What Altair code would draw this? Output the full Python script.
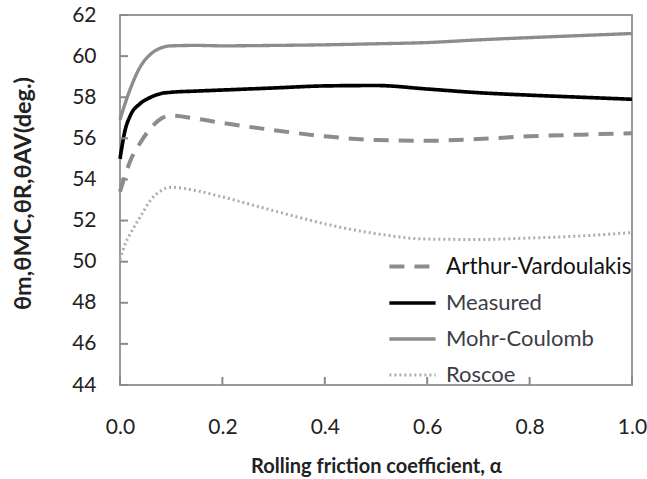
import altair as alt
import pandas as pd

# ---- data ----
alpha = [0.0, 0.01, 0.02, 0.04, 0.06, 0.08, 0.1, 0.15, 0.2, 0.3, 0.4, 0.5, 0.6, 0.7, 0.8, 0.9, 1.0]
arthur = [53.4, 54.2, 54.9, 55.8, 56.5, 56.95, 57.1, 56.95, 56.75, 56.4, 56.1, 55.92, 55.88, 55.97, 56.1, 56.18, 56.25]
measured = [55.0, 56.4, 57.1, 57.7, 58.0, 58.18, 58.24, 58.3, 58.35, 58.45, 58.55, 58.57, 58.4, 58.22, 58.1, 58.0, 57.9]
mohr = [56.9, 57.7, 58.4, 59.5, 60.1, 60.4, 60.5, 60.52, 60.5, 60.52, 60.55, 60.6, 60.66, 60.79, 60.9, 61.0, 61.1]
roscoe = [50.1, 50.85, 51.35, 52.2, 53.0, 53.45, 53.62, 53.45, 53.15, 52.48, 51.84, 51.36, 51.1, 51.08, 51.15, 51.25, 51.42]

series_names = ["Arthur-Vardoulakis", "Measured", "Mohr-Coulomb", "Roscoe"]
y_ticks = [44, 46, 48, 50, 52, 54, 56, 58, 60, 62]
x_ticks = [0.0, 0.2, 0.4, 0.6, 0.8, 1.0]

rows = []
for name, vals in zip(series_names, [arthur, measured, mohr, roscoe]):
    for a, v in zip(alpha, vals):
        rows.append({"alpha": a, "theta": v, "series": name})
df = pd.DataFrame(rows)

W, H = 512, 370
FONT = "Lato"
xs = alt.Scale(domain=[0, 1], nice=False, zero=False)
ys = alt.Scale(domain=[44, 62], nice=False, zero=False)

x_axis = alt.Axis(values=x_ticks, format=".1f", title="Rolling friction coefficient, α",
                  grid=False, ticks=False, tickSize=0, domain=False, labelFlush=False,
                  labelPadding=31, labelFontSize=21, labelColor="#222",
                  labelFont=FONT, titleFont=FONT, titleFontSize=20,
                  titleFontWeight="bold", titleColor="#222",
                  titleY=81, titleBaseline="middle")
y_axis = alt.Axis(values=y_ticks, title="θm,θMC,θR,θAV(deg.)",
                  grid=False, ticks=False, tickSize=0, domain=False, labelFlush=False,
                  labelPadding=24, labelFontSize=21, labelColor="#222",
                  labelFont=FONT, titleFont=FONT, titleFontSize=23.5,
                  titleFontWeight="bold", titleColor="#222",
                  titleX=-97, titleY=178, titleAlign="center",
                  titleBaseline="middle", titleAngle=270)

legend = alt.Legend(
    title=None,
    rowPadding=-4.5,
    labelFontSize={"expr": "datum.label === 'Arthur-Vardoulakis' ? 22.5 : 22"},
    labelColor={"expr": "datum.label === 'Arthur-Vardoulakis' ? '#111111' : '#3c3c46'"},
)

lines = alt.Chart(df).mark_line(interpolate="monotone").encode(
    x=alt.X("alpha:Q", scale=xs, axis=x_axis),
    y=alt.Y("theta:Q", scale=ys, axis=y_axis),
    color=alt.Color("series:N",
                    scale=alt.Scale(domain=series_names,
                                    range=["#8c8c8c", "#000000", "#8c8c8c", "#acacac"]),
                    legend=legend),
    strokeDash=alt.StrokeDash("series:N",
                              scale=alt.Scale(domain=series_names,
                                              range=[[15, 10], [1, 0], [1, 0], [2, 3]]),
                              legend=legend),
    strokeWidth=alt.StrokeWidth("series:N",
                                scale=alt.Scale(domain=series_names, range=[4, 3, 2.5, 2.5]),
                                legend=legend),
)

# inward tick marks, drawn from the tick value lists through the shared scales
ytick_df = pd.DataFrame({"theta": y_ticks})
ytk = alt.Chart(ytick_df).mark_rule(color="#8a8a8a", strokeWidth=2).encode(
    y=alt.Y("theta:Q", scale=ys, axis=None),
    x=alt.value(0), x2=alt.value(8),
)
xtick_df = pd.DataFrame({"alpha": x_ticks})
xtk = alt.Chart(xtick_df).mark_rule(color="#8a8a8a", strokeWidth=2).encode(
    x=alt.X("alpha:Q", scale=xs, axis=None),
    y=alt.value(H), y2=alt.value(H - 8),
)

chart = alt.layer(lines, ytk, xtk).resolve_axis(
    x="independent", y="independent"
).properties(
    width=W, height=H,
    autosize=alt.AutoSizeParams(type="none"),
    padding={"left": 120, "top": 15, "right": 15, "bottom": 94},
).configure_view(
    stroke="#9a9a9a", strokeWidth=2
).configure_legend(
    orient="none", legendX=267, legendY=226,
    symbolType="stroke", symbolSize=2134, labelFont=FONT, labelLimit=400,
    padding=0, labelOffset=8,
)

chart.save("out.html", embed_options={"renderer": "svg", "actions": False})
